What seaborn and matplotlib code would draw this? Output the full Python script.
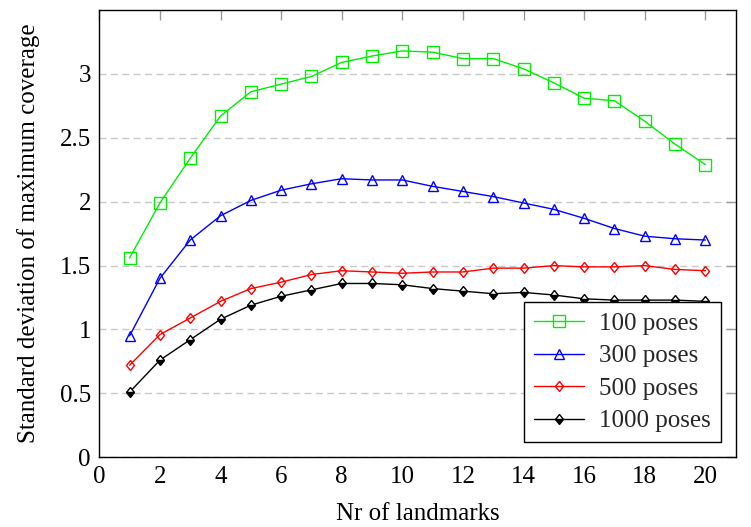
import numpy as np
import pandas as pd
import seaborn as sns
import matplotlib
matplotlib.use("Agg")
import matplotlib.pyplot as plt
from matplotlib.markers import MarkerStyle
from matplotlib.transforms import Affine2D

# Number of landmarks on the x axis
landmarks = list(range(1, 21))

# Standard deviation of maximum coverage per pose count
std_100 = [1.56, 1.99, 2.34, 2.67, 2.86, 2.92, 2.98, 3.09, 3.14, 3.18,
           3.17, 3.12, 3.12, 3.04, 2.93, 2.81, 2.79, 2.63, 2.45, 2.29]
std_300 = [0.95, 1.40, 1.70, 1.89, 2.01, 2.09, 2.14, 2.18, 2.17, 2.17,
           2.12, 2.08, 2.04, 1.99, 1.94, 1.87, 1.79, 1.73, 1.71, 1.70]
std_500 = [0.72, 0.96, 1.09, 1.22, 1.32, 1.37, 1.43, 1.46, 1.45, 1.44,
           1.45, 1.45, 1.48, 1.48, 1.50, 1.49, 1.49, 1.50, 1.47, 1.46]
std_1000 = [0.51, 0.76, 0.92, 1.08, 1.19, 1.26, 1.31, 1.36, 1.36, 1.35,
            1.32, 1.30, 1.28, 1.29, 1.27, 1.24, 1.23, 1.23, 1.23, 1.22]

series_labels = ["100 poses", "300 poses", "500 poses", "1000 poses"]
series_values = [std_100, std_300, std_500, std_1000]
series_colors = ["#00ee00", "#0000ff", "#ff0000", "#000000"]

x_ticks = [0, 2, 4, 6, 8, 10, 12, 14, 16, 18, 20]
y_ticks = [0, 0.5, 1, 1.5, 2, 2.5, 3]
y_tick_labels = ["0", "0.5", "1", "1.5", "2", "2.5", "3"]

sns.set_theme(style="white")
plt.rcParams["font.family"] = ["Liberation Serif", "DejaVu Serif"]
plt.rcParams["mathtext.fontset"] = "stix"

FS = 18

fig = plt.figure(figsize=(7.51, 5.27), dpi=100)
ax = fig.add_axes([0.1322, 0.1323, 0.9796 - 0.1322, 0.981 - 0.1323])

# Marker shapes: square, triangle, tall diamond, half-filled tall diamond
diamond_tf = Affine2D().scale(0.78, 1.0)
markers = [
    dict(marker="s", markersize=8.6, markerfacecolor="none", fillstyle="none"),
    dict(marker="^", markersize=7.2, markerfacecolor="none", fillstyle="none"),
    dict(marker=MarkerStyle("D", fillstyle="none", transform=diamond_tf),
         markersize=5.6, markerfacecolor="none"),
    dict(marker=MarkerStyle("D", fillstyle="bottom", transform=diamond_tf),
         markersize=5.6, markerfacecolor="#000000", markerfacecoloralt="white"),
]

for label, vals, color, mk in zip(series_labels, series_values, series_colors, markers):
    df = pd.DataFrame({"landmarks": landmarks, "std": vals})
    sns.lineplot(data=df, x="landmarks", y="std", ax=ax, color=color,
                 label=label, linewidth=1.0, markeredgecolor=color,
                 markeredgewidth=1.0, **mk)

ax.set_xlim(0, 21)
ax.set_ylim(0, 3.5)
ax.set_xticks(x_ticks)
ax.set_yticks(y_ticks)
ax.set_yticklabels(y_tick_labels)

ax.yaxis.grid(True, color="#c8c8c8", linestyle=(0, (5, 3.2)), linewidth=1.0)
ax.xaxis.grid(False)
ax.set_axisbelow(True)

ax.tick_params(axis="both", which="both", direction="in", length=7.5,
               width=1.0, color="#999999", labelsize=FS, top=True, right=True,
               pad=6, labelcolor="black")

for sp in ax.spines.values():
    sp.set_color("black")
    sp.set_linewidth(1.0)

ax.set_xlabel("Nr of landmarks", fontsize=FS, labelpad=11, color="black")
ax.set_ylabel("Standard deviation of maximum coverage", fontsize=FS,
              labelpad=14, color="black")

leg = ax.legend(loc="lower right", fontsize=FS, frameon=True, fancybox=False,
                framealpha=1.0, edgecolor="black", handlelength=2.0,
                handletextpad=0.6, labelspacing=0.4, borderpad=0.4,
                borderaxespad=0.6, numpoints=1)
leg.get_frame().set_linewidth(1.0)

fig.savefig("out.png", dpi=100)
